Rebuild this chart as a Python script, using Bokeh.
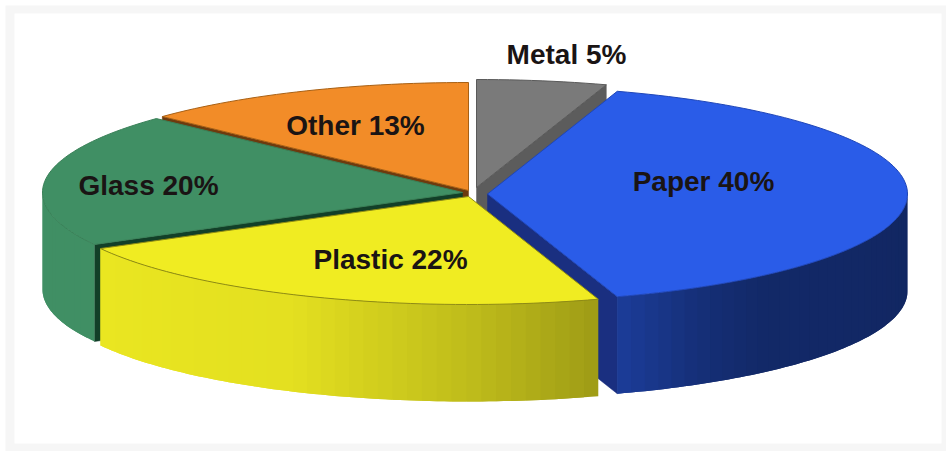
import numpy as np
from bokeh.plotting import figure
from bokeh.models import ColumnDataSource, Range1d
from bokeh.core.properties import value
from bokeh.embed import file_html
from bokeh.resources import INLINE

# data
categories = ["Metal", "Paper", "Plastic", "Glass", "Other"]
shares = [5, 40, 22, 20, 13]

# style
top_colors = ["#7a7a7a", "#2a5ce8", "#f0ec22", "#408f64", "#f28c28"]
cut_colors = ["#5c5c5c", "#1a2f80", "#a09c10", "#123f28", "#6d3a0e"]
edge_colors = ["#5a5a5a", "#1f46b8", "#8f8b14", "#3a8058", "#a86014"]

# layout (page pixels)
W, H = 946, 451
RX, RY, DEPTH = 420.0, 108.0, 97.0
apex_x = [476, 487, 468, 462, 468]
apex_y = [187, 193.5, 196, 192, 190]
label_x = [566, 703, 390, 148, 355]
label_y = [54, 181, 259, 185, 125]
draw_order = [4, 0, 3, 1, 2]

# wall lighting, by angle clockwise from 12 o'clock
LIGHT_A = [90, 140, 150, 162, 180, 205, 270]
LIGHT_V = [0.42, 0.45, 0.52, 0.66, 0.80, 0.95, 1.0]


def shade(col, k):
    r, g, b = (int(col[i:i + 2], 16) for i in (1, 3, 5))
    return "#%02x%02x%02x" % (int(r * k), int(g * k), int(b * k))


def rim(ax, ay, deg):
    t = np.radians(deg)
    return ax + RX * np.sin(t), ay - RY * np.cos(t)


p = figure(width=W, height=H, output_backend="svg", toolbar_location=None,
           x_range=Range1d(0, W), y_range=Range1d(H, 0),
           min_border=0, outline_line_color=None, background_fill_color="white",
           border_fill_color="white")
p.axis.visible = False
p.grid.visible = False

p.quad(left=[5], right=[W], top=[5], bottom=[H], fill_color="#f6f6f6", line_color=None)
p.quad(left=[14], right=[941], top=[13], bottom=[443], fill_color="white", line_color=None)

edges = np.cumsum([0] + shares) * 360.0 / sum(shares)

for i in draw_order:
    a0, a1 = edges[i], edges[i + 1]
    ax, ay = apex_x[i], apex_y[i]
    col = top_colors[i]

    # radial cut faces that turn toward the viewer
    for ang, visible in ((a0, np.sin(np.radians(a0)) < -1e-6), (a1, np.sin(np.radians(a1)) > 1e-6)):
        if visible:
            rx_, ry_ = rim(ax, ay, ang)
            p.patch([ax, rx_, rx_, ax], [ay, ry_, ry_ + DEPTH, ay + DEPTH],
                    fill_color=cut_colors[i], line_color=cut_colors[i], line_width=0.5)

    # outer wall (lower half of the ellipse), in overlapping shaded strips
    lo, hi = max(a0, 90.0), min(a1, 270.0)
    if hi > lo:
        angs = np.linspace(lo, hi, max(2, int((hi - lo) / 2) + 1))
        xs, ys, cols = [], [], []
        for j in range(len(angs) - 1):
            s, e = angs[j], angs[min(j + 2, len(angs) - 1)]
            mid = (angs[j] + angs[j + 1]) / 2
            arc = np.linspace(s, e, 5)
            x, y = rim(ax, ay, arc)
            xs.append(np.r_[x, x[::-1]])
            ys.append(np.r_[y, y[::-1] + DEPTH])
            k = 1.0 if i == 3 else float(np.interp(mid, LIGHT_A, LIGHT_V))
            cols.append(shade(col, k))
        src = ColumnDataSource(dict(xs=xs, ys=ys, c=cols))
        p.patches("xs", "ys", source=src, fill_color="c", line_color=None)

    # top face
    angs = np.linspace(a0, a1, max(3, int((a1 - a0) / 1.5) + 1))
    tx, ty = rim(ax, ay, angs)
    p.patch(np.r_[ax, tx], np.r_[ay, ty], fill_color=col, line_color=edge_colors[i], line_width=1.0)

lab = [f"{c} {s}%" for c, s in zip(categories, shares)]
p.text(x=label_x, y=label_y, text=lab, text_font=value("Liberation Sans"),
       text_font_style="bold", text_font_size="28px", text_color="#1a1414",
       text_align="center", text_baseline="middle")

open("out.html", "w").write(file_html(p, INLINE))
